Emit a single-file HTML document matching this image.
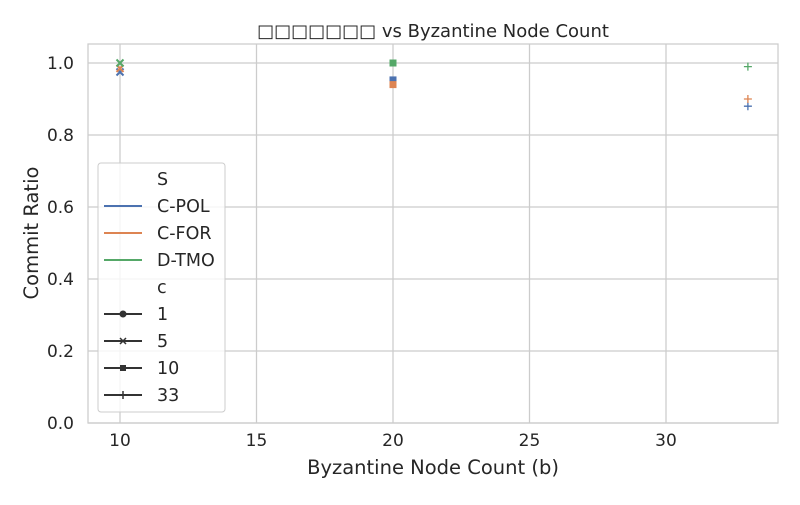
<!DOCTYPE html>
<html><head><meta charset="utf-8"><style>
body{margin:0;background:#fff;font-family:"Liberation Sans","DejaVu Sans",sans-serif;}
svg text{font-family:"DejaVu Sans","Liberation Sans",sans-serif;fill:#262626;}
</style></head><body>
<svg id="chart" width="800" height="500">
<rect width="800" height="500" fill="#fff"/>
<g id="grid"></g>
<rect x="88" y="44" width="690" height="379" fill="none" stroke="#cccccc" stroke-width="1.25"/>
<g id="marks"></g>
<g id="ticks"></g>
<text x="433" y="37" text-anchor="middle" font-size="18">□□□□□□□ vs Byzantine Node Count</text>
<text x="433" y="474" text-anchor="middle" font-size="19.5">Byzantine Node Count (b)</text>
<text transform="translate(38,233) rotate(-90)" text-anchor="middle" font-size="19.5">Commit Ratio</text>
<g>
<rect x="98" y="163" width="127" height="249" rx="3" fill="#fff" fill-opacity="0.8" stroke="#cccccc"/>
<text x="157" y="185" font-size="17.5">S</text>
<line x1="104" y1="206" x2="142" y2="206" stroke="#4c72b0" stroke-width="2"/>
<text x="157" y="212" font-size="17.5">C-POL</text>
<line x1="104" y1="233" x2="142" y2="233" stroke="#dd8452" stroke-width="2"/>
<text x="157" y="239" font-size="17.5">C-FOR</text>
<line x1="104" y1="260" x2="142" y2="260" stroke="#55a868" stroke-width="2"/>
<text x="157" y="266" font-size="17.5">D-TMO</text>
<text x="157" y="293" font-size="17.5">c</text>
<line x1="104" y1="314" x2="142" y2="314" stroke="#333" stroke-width="2"/><circle cx="123" cy="314" r="3.5" fill="#333"/>
<text x="157" y="320" font-size="17.5">1</text>
<line x1="104" y1="341" x2="142" y2="341" stroke="#333" stroke-width="2"/><path d="M120 338l6 6M126 338l-6 6" stroke="#333" stroke-width="1.5"/>
<text x="157" y="347" font-size="17.5">5</text>
<line x1="104" y1="368" x2="142" y2="368" stroke="#333" stroke-width="2"/><rect x="120" y="365" width="6" height="6" fill="#333"/>
<text x="157" y="374" font-size="17.5">10</text>
<line x1="104" y1="395" x2="142" y2="395" stroke="#333" stroke-width="2"/><path d="M119 395h8M123 391v8" stroke="#333" stroke-width="1.5"/>
<text x="157" y="401" font-size="17.5">33</text>
</g>
</svg>
<script>
const xTicks=[10,15,20,25,30];
const yTicks=[0.0,0.2,0.4,0.6,0.8,1.0];
const series=["C-POL","C-FOR","D-TMO"];
const bValues=[10,20,33];
const cValues=[5,10,33];
const polValues=[0.975,0.953,0.88];
const forValues=[0.985,0.94,0.90];
const tmoValues=[1.0,1.0,0.99];
const colors={"C-POL":"#4c72b0","C-FOR":"#dd8452","D-TMO":"#55a868"};
const X=v=>120+(v-10)*27.3;
const Y=v=>423-v*360;
const ns="http://www.w3.org/2000/svg";
const grid=document.getElementById('grid'),ticks=document.getElementById('ticks'),marks=document.getElementById('marks');
function mk(tag,attrs,parent){const e=document.createElementNS(ns,tag);for(const k in attrs)e.setAttribute(k,attrs[k]);parent.appendChild(e);return e;}
xTicks.forEach(t=>{
const l=mk('line',{x1:X(t),x2:X(t),y1:44,y2:423,stroke:'#cccccc','stroke-width':1.25},grid);


const tx=mk('text',{x:X(t),y:446,'text-anchor':'middle','font-size':17},ticks);tx.textContent=t;


});
yTicks.forEach(t=>{
const l=mk('line',{x1:88,x2:778,y1:Y(t),y2:Y(t),stroke:'#cccccc','stroke-width':1.25},grid);


const tx=mk('text',{x:74,y:Y(t)+6,'text-anchor':'end','font-size':17},ticks);tx.textContent=t.toFixed(1);


});
const vals={"C-POL":polValues,"C-FOR":forValues,"D-TMO":tmoValues};
series.forEach(s=>{
vals[s].forEach((v,i)=>{
const cx=X(bValues[i]),cy=Y(v),c=cValues[i],col=colors[s];
let e;
if(c===10){e=mk('rect',{x:cx-3.5,y:cy-3.5,width:7,height:7,fill:col},marks);}
else if(c===5){e=mk('path',{d:`M${cx-3.5} ${cy-3.5}l7 7M${cx+3.5} ${cy-3.5}l-7 7`,stroke:col,'stroke-width':2},marks);}
else if(c===33){e=mk('path',{d:`M${cx-4} ${cy}h8M${cx} ${cy-4}v8`,stroke:col,'stroke-width':1.3},marks);}
else{e=mk('circle',{cx:cx,cy:cy,r:3.5,fill:col},marks);}


});
});
</script>
</body></html>
